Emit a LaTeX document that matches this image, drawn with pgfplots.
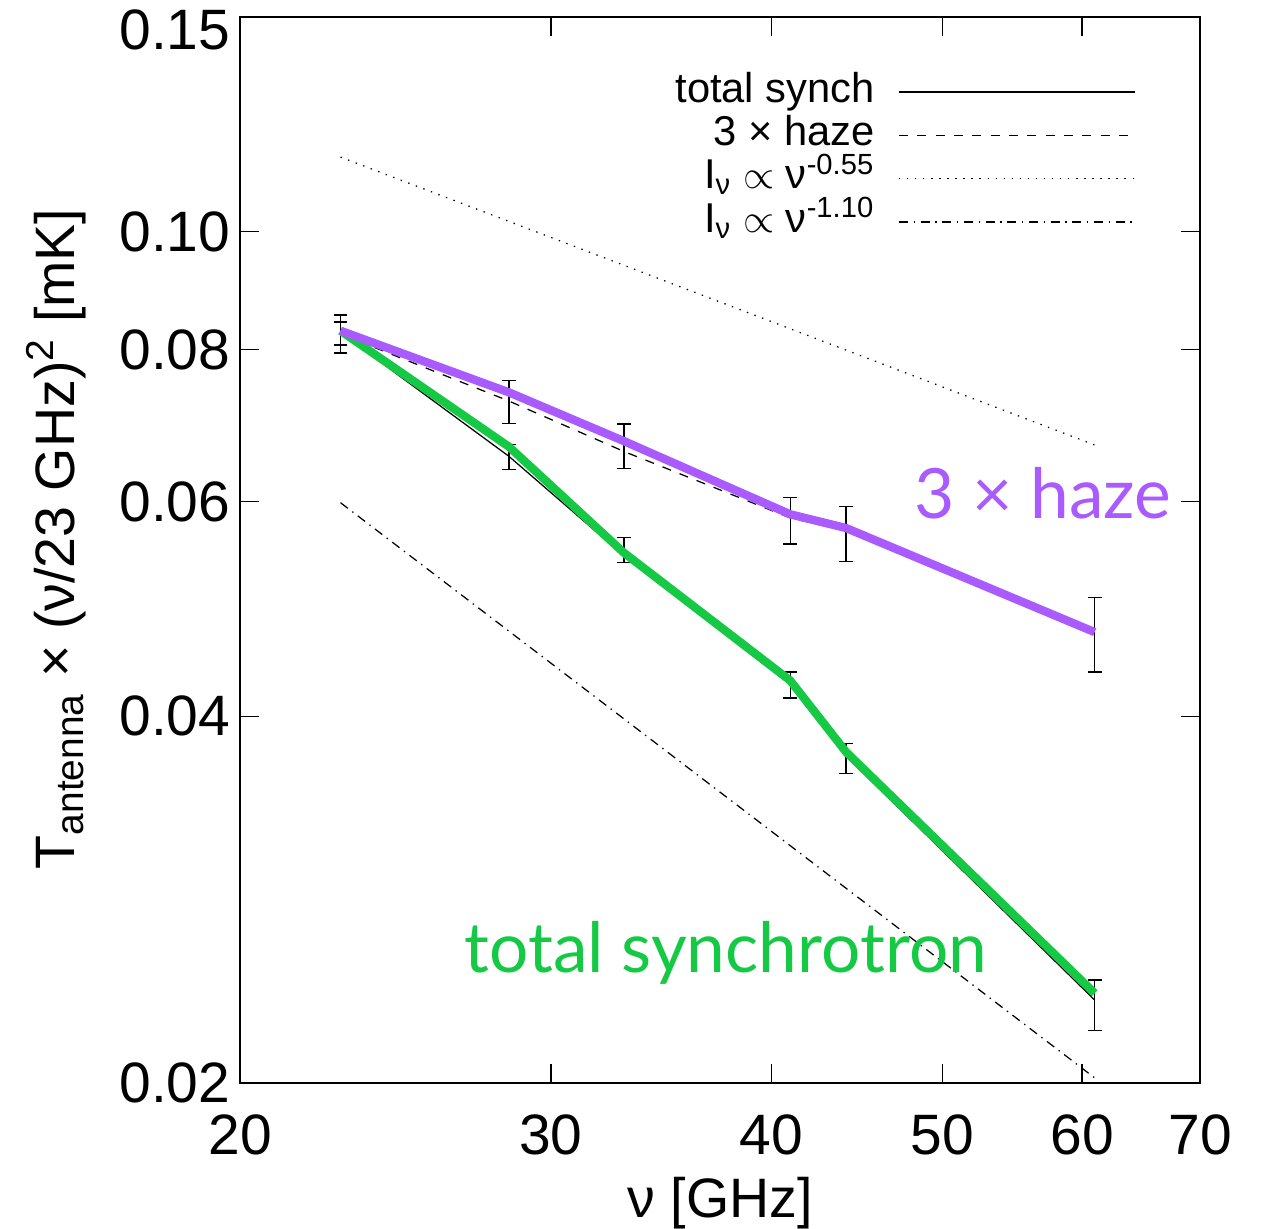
\documentclass[border=0pt]{standalone}
\usepackage{pgfplots}
\pgfplotsset{compat=1.18}
\usepackage{pgfplotstable}
\usetikzlibrary{calc}
\usepackage{fontspec}
\setmainfont{Liberation Sans}
\newfontfamily\gill{Lato}
\definecolor{hazepurple}{HTML}{A95BFF}
\definecolor{synchgreen}{HTML}{16C944}

\pgfplotstableread{
x     y       ep      em
22.8  0.0830  0.0024  0.0023
28.4  0.0725  0.0030  0.0029
33.0  0.0667  0.0028  0.0028
41.0  0.0579  0.0026  0.0025
44.1  0.0565  0.0030  0.0029
61.0  0.0468  0.0033  0.0033
}\hazebars
\pgfplotstableread{
x     y       ep      em
22.8  0.0819  0.0024  0.0024
28.4  0.0653  0.0016  0.0015
33.0  0.0548  0.0013  0.0013
41.0  0.0424  0.0011  0.0010
44.1  0.0369  0.0011  0.0010
61.0  0.0232  0.0011  0.0011
}\synchbars
\pgfplotstableread{
x     y
22.8  0.0826
28.4  0.0654
33.0  0.0542
41.0  0.0425
44.1  0.0371
61.0  0.0234
}\synchmodel
\pgfplotstableread{
x     y
22.8  0.0824
28.4  0.0726
33.0  0.0660
41.0  0.0582
44.1  0.0568
61.0  0.0467
}\hazemodel
\pgfplotstableread{
x     y
22.8  0.0829
28.4  0.0666
33.0  0.0545
41.0  0.0428
44.1  0.0374
61.0  0.0237
}\synchthick
\pgfplotstableread{
x     y
22.8  0.0829
28.4  0.0738
33.0  0.0673
41.0  0.0586
44.1  0.0571
61.0  0.0469
}\hazethick

\begin{document}
\begin{tikzpicture}
\begin{axis}[
  name=main,
  scale only axis,
  width=345.6pt, height=383.8pt,
  xmode=log, ymode=log,
  xmin=20, xmax=70, ymin=0.02, ymax=0.15,
  xtick={20,30,40,50,60,70},
  xticklabels={20,30,40,50,60,70},
  ytick={0.02,0.04,0.06,0.08,0.10,0.15},
  yticklabels={0.02,0.04,0.06,0.08,0.10,\raisebox{-4.7pt}[\height][\depth]{0.15}},
  minor xtick={}, minor ytick={},
  tick pos=both,
  tick align=inside,
  major tick length=7pt,
  every tick/.style={black, line width=0.5pt},
  axis line style={line width=0.7pt},
  /pgf/number format/assume math mode=true,
  ticklabel style={font=\fontsize{20.5}{23}\selectfont},
  xticklabel style={yshift=-8pt},
  label style={font=\fontsize{20}{23}\selectfont},
  xlabel={ν [GHz]},
  ylabel={T\textsubscript{antenna} × (ν/23 GHz)\textsuperscript{2} [mK]},
  xlabel style={yshift=-1pt},
  ylabel style={yshift=5pt, xshift=4pt},
  legend plot pos=right,
  legend cell align=right,
  legend image code/.code={\draw[#1] (0pt,0pt) -- (85pt,0pt);},
  legend style={draw=none, fill=none, at={(1,1)}, anchor=north east,
    xshift=-20pt, yshift=-17pt,
    font=\fontsize{15}{16}\selectfont,
    nodes={inner sep=0.5pt, text height=11pt, text depth=3.6pt},
    /tikz/every odd column/.append style={column sep=8pt}},
]
% error bars
\addplot[black, line width=0.5pt, mark=none, draw=none, forget plot,
  error bars/.cd, y dir=both, y explicit,
  error bar style={line width=0.5pt, black},
  error mark options={rotate=90, mark size=2.5pt, line width=0.5pt, black}]
  table[x=x, y=y, y error plus=ep, y error minus=em] {\hazebars};
\addplot[black, line width=0.5pt, mark=none, draw=none, forget plot,
  error bars/.cd, y dir=both, y explicit,
  error bar style={line width=0.5pt, black},
  error mark options={rotate=90, mark size=2.5pt, line width=0.5pt, black}]
  table[x=x, y=y, y error plus=ep, y error minus=em] {\synchbars};
% model lines
\addplot[black, line width=0.45pt, mark=none] table[x=x,y=y] {\synchmodel};
\addlegendentry{total synch}
\addplot[black, line width=0.45pt, mark=none, dash pattern=on 3.3pt off 3.3pt] table[x=x,y=y] {\hazemodel};
\addlegendentry{3 × haze}
\addplot[black, line width=0.45pt, mark=none, dash pattern=on 0.5pt off 2.4pt] coordinates {(22.8,0.1151) (61,0.0668)};
\addlegendentry{I\textsubscript{ν} $\propto$ ν\textsuperscript{-0.55}}
\addplot[black, line width=0.45pt, mark=none, dash pattern=on 3.3pt off 2pt on 0.5pt off 2pt] coordinates {(22.8,0.0599) (61,0.0202)};
\addlegendentry{I\textsubscript{ν} $\propto$ ν\textsuperscript{-1.10}}
% thick lines
\addplot[synchgreen, line width=3pt, mark=none, forget plot] table[x=x,y=y] {\synchthick};
\addplot[hazepurple, line width=3pt, mark=none, forget plot] table[x=x,y=y] {\hazethick};
% annotations
\node[text=hazepurple, font=\gill\fontsize{25}{27}\selectfont, anchor=center] at (axis cs:57.0,0.0610) {3 × haze};
\node[text=synchgreen, font=\gill\fontsize{25}{27}\selectfont, anchor=center] at (axis cs:37.7,0.0256) {total synchrotron};
\end{axis}
\pgfresetboundingbox
\useasboundingbox ($(main.south west)+(-86.4pt,-52.2pt)$) rectangle ($(main.north east)+(22.3pt,6.1pt)$);
\end{tikzpicture}
\end{document}
